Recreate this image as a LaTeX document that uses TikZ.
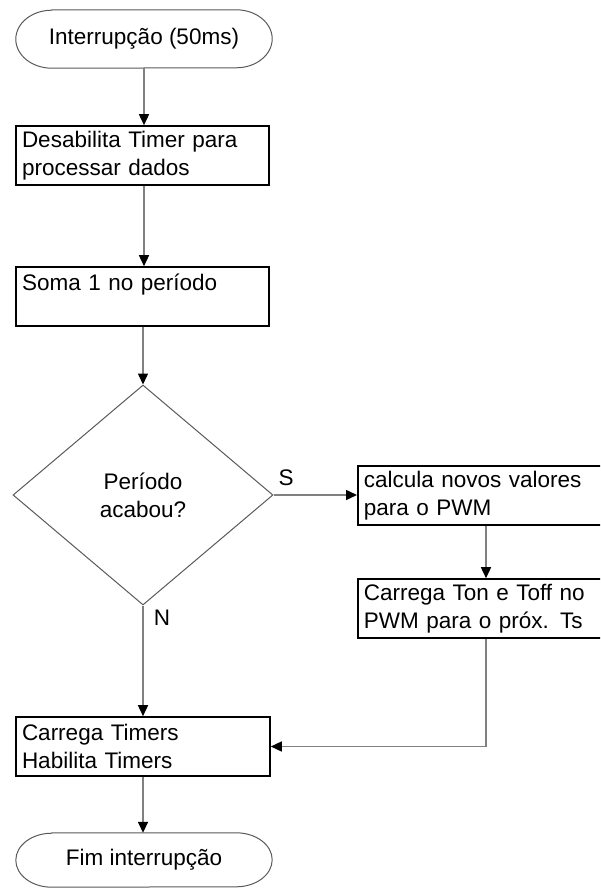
\documentclass[tikz,border=0pt]{standalone}
\usepackage{fontspec}
\setmainfont{Liberation Sans}
\usetikzlibrary{arrows.meta,shapes.geometric,calc}
\definecolor{lineg}{gray}{0.5}
\definecolor{shapeg}{gray}{0.35}
\begin{document}
\begin{tikzpicture}[x=1pt,y=-1pt,
  every node/.style={font=\fontsize{22.5}{28}\selectfont, text=black},
  box/.style={draw=black, line width=1.6pt, rectangle, inner xsep=6pt, inner ysep=2pt,
    align=left, text width=#1, minimum height=59pt},
  pillnode/.style={draw=none, minimum width=256pt, minimum height=#1, inner sep=0pt},
  pillline/.style={draw=shapeg, line width=1pt},
  decision/.style={diamond, draw=shapeg, line width=1pt, minimum width=260pt,
    minimum height=220pt, inner sep=0pt, align=center},
  conn/.style={draw=lineg, line width=1.5pt,
    -{Triangle[length=11pt,width=10pt,color=black,fill=black]}},
  lbl/.style={inner sep=0pt}
]
\useasboundingbox (0,0) rectangle (600,888);
\clip (0,0) rectangle (600,888);

% start terminal
\node[pillnode=58pt] (start) at (144,39) {Interrupção (50ms)};
\draw[pillline] ([xshift=36pt]start.north west) -- ([xshift=-36pt]start.north east)
  arc[start angle=90, end angle=-90, x radius=36pt, y radius=29pt]
  -- ([xshift=36pt]start.south west)
  arc[start angle=270, end angle=90, x radius=36pt, y radius=29pt] -- cycle;

\node[box=241pt] (b1) at (142.5,155.5) {Desabilita Timer para\\processar dados};
\node[box=241pt] (b2) at (142.5,296.5) {Soma 1 no período\\\mbox{}};

\node[decision] (d) at (143,495) {Período\\acabou?};

\node[box=290pt, anchor=west] (c1) at (357,495.5) {calcula novos valores\\para o PWM};
\node[box=290pt, anchor=west] (c2) at (357,608.5) {Carrega Ton e Toff no\\PWM para o próx. Ts};
\coordinate (rx) at (486,0);

\node[box=242pt] (b3) at (143,746.5) {Carrega Timers\\Habilita Timers};

% end terminal
\node[pillnode=54pt] (end) at (144,860) {Fim interrupção};
\draw[pillline] ([xshift=36pt]end.north west) -- ([xshift=-36pt]end.north east)
  arc[start angle=90, end angle=-90, x radius=36pt, y radius=27pt]
  -- ([xshift=36pt]end.south west)
  arc[start angle=270, end angle=90, x radius=36pt, y radius=27pt] -- cycle;

\node[lbl] (s) at (286,478) {S};
\node[lbl] (n) at (162,618) {N};

% connectors
\draw[conn] (start.south) -- (start.south |- b1.north);
\draw[conn] (b1.south -| start.south) -- (start.south |- b2.north);
\draw[conn] (b2.south -| d.north) -- (d.north);
\draw[conn] (d.east) -- (c1.west |- d.east);
\draw[conn] (c1.south -| rx) -- (c2.north -| rx);
\draw[conn] (c2.south -| rx) |- (b3.east);
\draw[conn] (d.south) -- (d.south |- b3.north);
\draw[conn] (b3.south -| d.south) -- (d.south |- end.north);
\end{tikzpicture}
\end{document}
